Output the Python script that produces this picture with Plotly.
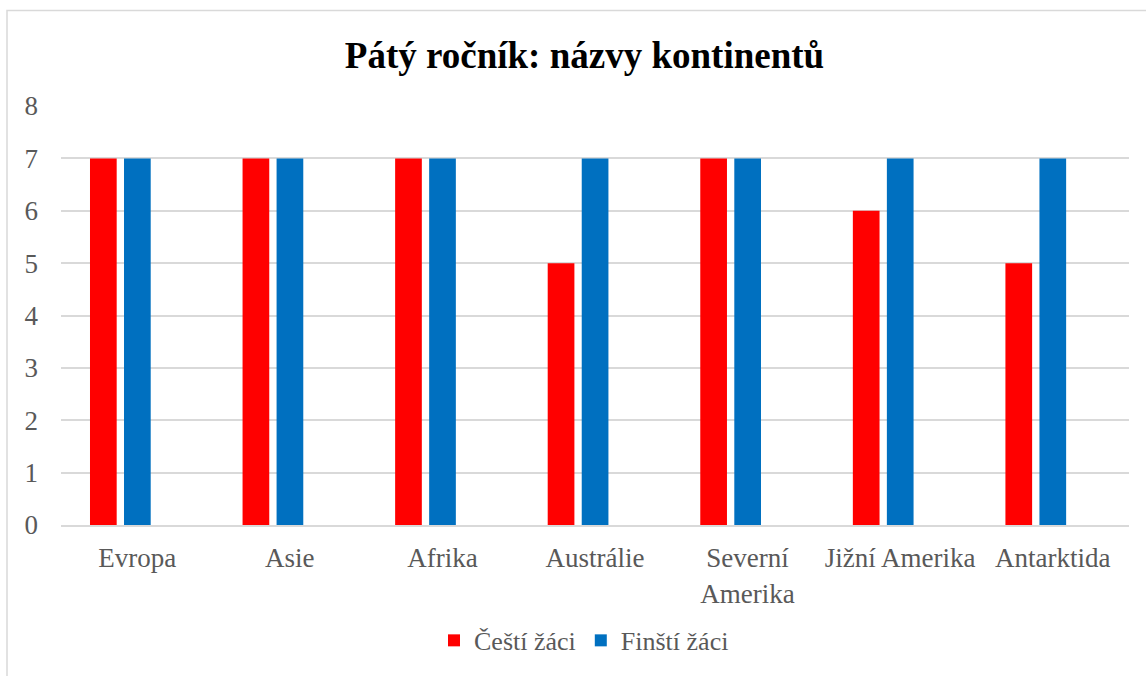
import plotly.graph_objects as go

categories = ["Evropa", "Asie", "Afrika", "Austrálie", "Severní<br>Amerika", "Jižní Amerika", "Antarktida"]
cesti = [7, 7, 7, 5, 7, 6, 5]
finsti = [7, 7, 7, 7, 7, 7, 7]
series_names = ["Čeští žáci", "Finští žáci"]
y_ticks = [0, 1, 2, 3, 4, 5, 6, 7, 8]

W, H = 1146, 676
ml, mr, mt, mb = 61, 17, 106, 149
pw, ph = W - ml - mr, H - mt - mb

FAM = "Liberation Serif, Times New Roman, serif"
tick_font = dict(family=FAM, size=27, color="#595959")
leg_font = dict(family=FAM, size=26, color="#595959")

fig = go.Figure()
fig.add_trace(go.Bar(x=categories, y=cesti, name=series_names[0], marker_color="#FF0000",
                     marker_line_width=0, width=0.175, offset=-0.31))
fig.add_trace(go.Bar(x=categories, y=finsti, name=series_names[1], marker_color="#0070C0",
                     marker_line_width=0, width=0.175, offset=-0.087))

# outer chart frame
fig.add_shape(type="rect", xref="paper", yref="paper",
              x0=(7 - ml) / pw, x1=(W + 5 - ml) / pw,
              y0=(H - mb - (H + 5)) / ph, y1=(H - mb - 10) / ph,
              line=dict(color="#D9D9D9", width=1.5), fillcolor="rgba(0,0,0,0)", layer="below")

fig.update_layout(
    width=W, height=H,
    margin=dict(l=ml, r=mr, t=mt, b=mb),
    paper_bgcolor="white", plot_bgcolor="white",
    barmode="overlay",
    font=tick_font,
    title=dict(text="<b>Pátý ročník: názvy kontinentů</b>", x=584.5 / W, xanchor="center",
               y=1 - 55 / H, yanchor="middle",
               font=dict(family=FAM, size=37, color="black")),
    showlegend=True,
    legend=dict(orientation="h", x=(584 - ml) / pw, xanchor="center", y=(H - mb - 643) / ph,
                yanchor="middle", font=leg_font, traceorder="normal", itemwidth=30),
    xaxis=dict(showgrid=False, showline=True, linecolor="#D9D9D9", linewidth=2, ticks="",
               tickfont=tick_font, ticklabelstandoff=8),
    yaxis=dict(range=[0, 8], tickvals=y_ticks, showgrid=True, gridcolor="#D9D9D9", gridwidth=2,
               zeroline=False, showline=False, ticks="", tickfont=tick_font, ticklabelstandoff=22),
)

fig.write_html("out.html", config={"displayModeBar": False},
               post_script="document.body.style.margin='0';")
